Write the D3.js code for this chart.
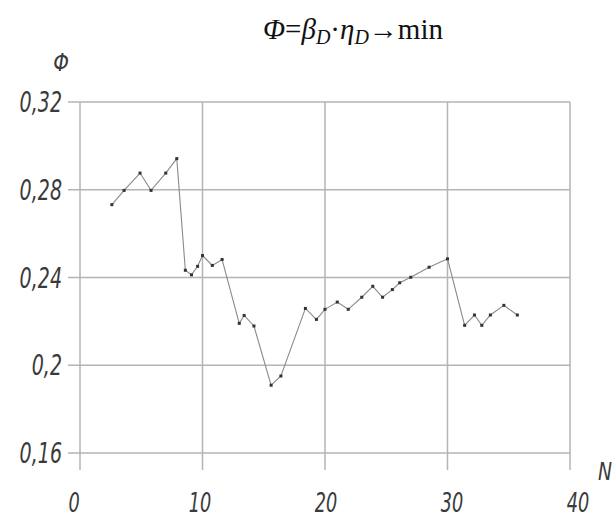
<!DOCTYPE html>
<html>
<head>
<meta charset="utf-8">
<script src="https://cdn.jsdelivr.net/npm/d3@7"></script>
<style>
  body { margin: 0; background: #fff; }
  .lbl { font-family: "DejaVu Sans", sans-serif; font-style: italic; fill: #3a3a3a; }
  .title { font-family: "Liberation Serif", "DejaVu Serif", serif; fill: #111; }
</style>
</head>
<body>
<script>
// values
var nValues   = [2.6, 3.6, 4.9, 5.8, 7.0, 7.9, 8.6, 9.1, 9.6, 10.0, 10.8, 11.6,
                 13.0, 13.4, 14.2, 15.6, 16.4, 18.4, 19.3, 20.0, 21.0, 21.9,
                 23.0, 23.9, 24.7, 25.5, 26.1, 27.0, 28.5, 30.0,
                 31.4, 32.2, 32.8, 33.5, 34.6, 35.7];
var phiValues = [0.2732, 0.2797, 0.2876, 0.2797, 0.2876, 0.2942, 0.2433, 0.2412, 0.2451, 0.2500, 0.2455, 0.2482,
                 0.2191, 0.2227, 0.2179, 0.1909, 0.1951, 0.2259, 0.2209, 0.2255, 0.2288, 0.2255,
                 0.2310, 0.2360, 0.2310, 0.2345, 0.2376, 0.2401, 0.2447, 0.2485,
                 0.2182, 0.2229, 0.2182, 0.2229, 0.2273, 0.2229];
var xTicks = [0, 10, 20, 30, 40];
var yTicks = [0.16, 0.2, 0.24, 0.28, 0.32];
var yTickLabels = ['0,16', '0,2', '0,24', '0,28', '0,32'];

var W = 615, H = 517;
var svg = d3.select('body').append('svg')
            .attr('width', W)
            .attr('height', H);

var x = d3.scaleLinear().domain([0, 40]).range([80, 570]);
var y = d3.scaleLinear().domain([0.16, 0.32]).range([453, 102]);
// tick numbers sit slightly spread out compared with the grid
var xLab = d3.scaleLinear().domain([0, 40]).range([74, 578]);
var narrow = 0.68;

var data = nValues.map(function(n, i){ return {n: n, phi: phiValues[i]}; });

// grid
svg.append('g').selectAll('line')
   .data(yTicks)
   .enter()
   .append('line')
   .attr('x1', x(0) - 12)
   .attr('x2', x(40))
   .attr('y1', function(d){ return y(d); })
   .attr('y2', function(d){ return y(d); })
   .attr('stroke', '#b4b4b4')
   .attr('stroke-width', 1.5);

svg.append('g').selectAll('line')
   .data(xTicks)
   .enter()
   .append('line')
   .attr('x1', function(d){ return x(d); })
   .attr('x2', function(d){ return x(d); })
   .attr('y1', y(0.32))
   .attr('y2', y(0.16) + 17)
   .attr('stroke', '#b4b4b4')
   .attr('stroke-width', 1.5);

// data line
var line = d3.line()
             .x(function(d){ return x(d.n); })
             .y(function(d){ return y(d.phi); });

svg.append('path')
   .datum(data)
   .attr('d', line)
   .attr('fill', 'none')
   .attr('stroke', '#8a8a8a')
   .attr('stroke-width', 1.1);

svg.append('g').selectAll('rect')
   .data(data)
   .enter()
   .append('rect')
   .attr('x', function(d){ return x(d.n) - 1.5; })
   .attr('y', function(d){ return y(d.phi) - 1.5; })
   .attr('width', 3)
   .attr('height', 3)
   .attr('fill', '#333');

// tick labels (squeezed to look like the narrow drafting font)
svg.append('g').selectAll('text')
   .data(yTicks)
   .enter()
   .append('text')
   .classed('lbl', true)
   .attr('transform', function(d){ return 'translate(62,' + (y(d) + 10) + ') scale(' + narrow + ',1)'; })
   .attr('text-anchor', 'end')
   .attr('font-size', 28)
   .text(function(d, i){ return yTickLabels[i]; });

svg.append('g').selectAll('text')
   .data(xTicks)
   .enter()
   .append('text')
   .classed('lbl', true)
   .attr('transform', function(d){ return 'translate(' + xLab(d) + ',512) scale(' + narrow + ',1)'; })
   .attr('text-anchor', 'middle')
   .attr('font-size', 26)
   .text(function(d){ return d; });

// axis names
svg.append('text')
   .classed('lbl', true)
   .attr('transform', 'translate(61,71) scale(0.8,1)')
   .attr('text-anchor', 'middle')
   .attr('font-size', 25)
   .text('Φ');

svg.append('text')
   .classed('lbl', true)
   .attr('transform', 'translate(605,480) scale(0.75,1)')
   .attr('text-anchor', 'middle')
   .attr('font-size', 25)
   .text('N');

// title
var title = svg.append('text')
               .classed('title', true)
               .attr('x', 353)
               .attr('y', 39)
               .attr('text-anchor', 'middle')
               .attr('font-size', 29);
title.append('tspan').attr('font-style', 'italic').text('Φ');
title.append('tspan').text('=');
title.append('tspan').attr('font-style', 'italic').text('β');
title.append('tspan').attr('font-style', 'italic').attr('font-size', 20).attr('dy', 5).text('D');
title.append('tspan').attr('dy', -5).text('·');
title.append('tspan').attr('font-style', 'italic').text('η');
title.append('tspan').attr('font-style', 'italic').attr('font-size', 20).attr('dy', 5).text('D');
title.append('tspan').attr('dy', -5).text('→min');
</script>
</body>
</html>
